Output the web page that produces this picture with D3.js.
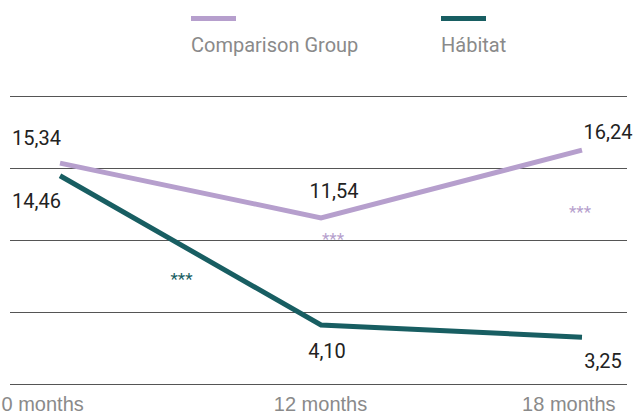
<!DOCTYPE html>
<html>
<head>
<meta charset="utf-8">
<script src="https://cdn.jsdelivr.net/npm/d3@7"></script>
<style>
  html, body { margin: 0; padding: 0; background: #fff; }
  svg { display: block; font-family: Roboto, "Noto Sans", sans-serif; }
</style>
</head>
<body>
<svg id="chart" width="637" height="416"></svg>
<script>
// ---- data ----
const categories = ["0 months", "12 months", "18 months"];
const seriesNames = ["Comparison Group", "Hábitat"];
const comparisonValues = [15.34, 11.54, 16.24];
const habitatValues = [14.46, 4.10, 3.25];
const yTicks = [0, 5, 10, 15, 20];
const significance = ["", "***", "***"]; // comparison group markers
const habitatSignificance = ["***", "", ""]; // between 0 and 12 months

const colors = { "Comparison Group": "#b69fcd", "Hábitat": "#185e62" };

const svg = d3.select("#chart");
const x = d3.scalePoint().domain(categories).range([60, 582]);
const y = d3.scaleLinear().domain([0, 20]).range([384, 96]);

// gridlines
svg.append("g").selectAll("line").data(yTicks).join("line")
  .attr("x1", 10).attr("x2", 627)
  .attr("y1", d => Math.round(y(d)) + 0.5).attr("y2", d => Math.round(y(d)) + 0.5)
  .attr("stroke", "#555").attr("stroke-width", 1);

// x axis labels
const xAxis = d3.axisBottom(x).tickSize(0).tickPadding(0);
const gx = svg.append("g").attr("transform", "translate(0,397)").call(xAxis);
gx.select(".domain").remove();
gx.selectAll("text")
  .attr("fill", "#8a8a8a").attr("font-size", 20).attr("dy", "0.71em")
  .attr("y", 0)
  .attr("text-anchor", (d, i) => i === 0 ? "start" : i === categories.length - 1 ? "end" : "middle")
  .attr("x", (d, i) => i === 0 ? -59 : i === categories.length - 1 ? 33 : -1);

// lines
const series = [
  { name: "Comparison Group", values: comparisonValues },
  { name: "Hábitat", values: habitatValues }
];
const line = d3.line().x((d, i) => x(categories[i])).y(d => y(d));
svg.append("g").selectAll("path").data(series).join("path")
  .attr("d", d => line(d.values))
  .attr("fill", "none")
  .attr("stroke", d => colors[d.name])
  .attr("stroke-width", 5)
  .attr("stroke-linejoin", "miter");

const fmt = v => v.toFixed(2).replace(".", ",");

// value labels
const labelOffsets = {
  "Comparison Group": [[-48, -18, "start"], [13, -20, "middle"], [26, -11, "middle"]],
  "Hábitat": [[-48, 32, "start"], [6, 33, "middle"], [21, 31, "middle"]]
};
series.forEach(s => {
  svg.append("g").selectAll("text").data(s.values).join("text")
    .attr("x", (d, i) => x(categories[i]) + labelOffsets[s.name][i][0])
    .attr("y", (d, i) => y(d) + labelOffsets[s.name][i][1])
    .attr("text-anchor", (d, i) => labelOffsets[s.name][i][2])
    .attr("fill", "#222").attr("font-size", 20)
    .text(d => d3.format(".2f")(d).replace(".", ","));
});

// significance markers
svg.append("g").selectAll("text").data(significance).join("text")
  .attr("x", (d, i) => x(categories[i]) + (i === 1 ? 12 : -2))
  .attr("y", (d, i) => i === 1 ? y(comparisonValues[i]) + 27 : y(comparisonValues[i]) + 68)
  .attr("text-anchor", "middle")
  .attr("fill", colors["Comparison Group"]).attr("font-size", 17)
  .text(d => d);
svg.append("g").selectAll("text").data(habitatSignificance).join("text")
  .attr("x", (d, i) => (x(categories[i]) + x(categories[i + 1] || categories[i])) / 2 - 9)
  .attr("y", (d, i) => y((habitatValues[i] + (habitatValues[i + 1] || 0)) / 2) + 35)
  .attr("text-anchor", "middle")
  .attr("fill", colors["Hábitat"]).attr("font-size", 17)
  .text(d => d);

// legend
const legendX = [191, 441];
const lg = svg.append("g").selectAll("g").data(seriesNames).join("g")
  .attr("transform", (d, i) => `translate(${legendX[i]},0)`);
lg.append("rect").attr("x", 0).attr("y", 16).attr("width", 45).attr("height", 5)
  .attr("fill", d => colors[d]);
lg.append("text").attr("x", 0).attr("y", 52)
  .attr("fill", "#8a8a8a").attr("font-size", 20).text(d => d);
</script>
</body>
</html>
